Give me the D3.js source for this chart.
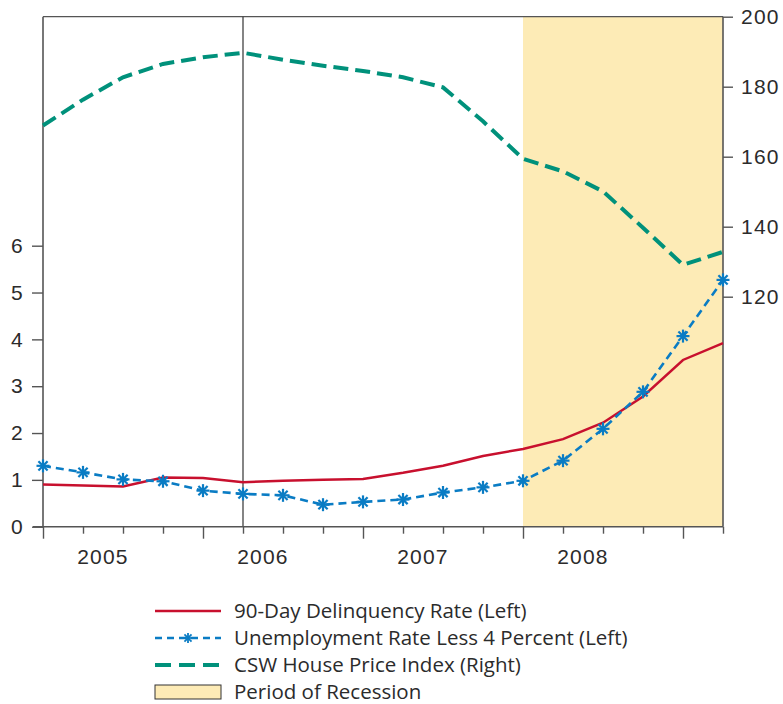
<!DOCTYPE html>
<html>
<head>
<meta charset="utf-8">
<script src="https://cdn.jsdelivr.net/npm/d3@7"></script>
<style>
  html, body { margin: 0; padding: 0; background: #fff; }
  svg { display: block; }
</style>
</head>
<body>
<svg id="chart" width="783" height="704"></svg>
<script>
// ---- data ----
const quarters = ["2005Q1","2005Q2","2005Q3","2005Q4","2006Q1","2006Q2","2006Q3","2006Q4",
                  "2007Q1","2007Q2","2007Q3","2007Q4","2008Q1","2008Q2","2008Q3","2008Q4",
                  "2009Q1","2009Q2"];
const years = ["2005","2006","2007","2008"];
const delinquency = [0.90, 0.88, 0.86, 1.05, 1.04, 0.95, 0.98, 1.00, 1.02, 1.15, 1.30, 1.51,
                     1.66, 1.87, 2.22, 2.78, 3.56, 3.92];
const unemploymentLess4 = [1.30, 1.16, 1.01, 0.97, 0.77, 0.70, 0.67, 0.47, 0.53, 0.58, 0.73, 0.84,
                           0.98, 1.41, 2.09, 2.88, 4.07, 5.27];
const housePrice = [168.9, 176.3, 182.7, 186.5, 188.4, 189.7, 187.7, 186.0, 184.5, 182.7, 179.8, 170.1,
                    159.4, 155.8, 150.1, 139.7, 129.1, 132.8];
const leftTicks = [0, 1, 2, 3, 4, 5, 6];
const rightTicks = [120, 140, 160, 180, 200];
const recession = ["2008Q1", "2009Q2"];
const markerQuarter = "2006Q2";
const legendItems = ["90-Day Delinquency Rate (Left)", "Unemployment Rate Less 4 Percent (Left)",
                     "CSW House Price Index (Right)", "Period of Recession"];

// ---- layout ----
const pLeft = 43, pRight = 723, pTop = 16.7, pBottom = 526.7;
const colors = { red: "#c8102e", blue: "#0a7cc4", green: "#00917b", rec: "#fdebb6", axis: "#555", text: "#2b2b2b" };

const svg = d3.select("#chart");
const x = d3.scalePoint().domain(quarters).range([pLeft, pRight]);
const yL = d3.scaleLinear().domain([0, 6]).range([pBottom, 245.7]);
const yR = d3.scaleLinear().domain([120, 200]).range([296.7, pTop]);

// recession band
svg.append("rect")
  .attr("x", x(recession[0])).attr("y", pTop)
  .attr("width", x(recession[1]) - x(recession[0])).attr("height", pBottom - pTop)
  .attr("fill", colors.rec);

// top border
svg.append("line").attr("x1", pLeft).attr("x2", pRight).attr("y1", pTop).attr("y2", pTop)
  .attr("stroke", colors.axis).attr("stroke-width", 1.3);

// vertical marker line
svg.append("line").attr("x1", x(markerQuarter)).attr("x2", x(markerQuarter))
  .attr("y1", pTop).attr("y2", pBottom).attr("stroke", "#333").attr("stroke-width", 1.2);

// left axis
const gL = svg.append("g").attr("transform", `translate(${pLeft},0)`)
  .call(d3.axisLeft(yL).tickValues(leftTicks).tickSize(11).tickPadding(8).tickFormat(d3.format("d")));
gL.select(".domain").remove();
gL.append("line").attr("x1", 0).attr("x2", 0).attr("y1", pTop).attr("y2", pBottom)
  .attr("stroke", colors.axis).attr("stroke-width", 1.6);

// right axis
const gR = svg.append("g").attr("transform", `translate(${pRight},0)`)
  .call(d3.axisRight(yR).tickValues(rightTicks).tickSize(10).tickPadding(8).tickFormat(d3.format("d")));
gR.select(".domain").remove();
gR.append("line").attr("x1", 0).attr("x2", 0).attr("y1", pTop).attr("y2", pBottom)
  .attr("stroke", colors.axis).attr("stroke-width", 1.6);

// bottom axis
const gB = svg.append("g").attr("transform", `translate(0,${pBottom})`)
  .call(d3.axisBottom(x).tickValues(quarters).tickSize(7).tickFormat(""));
gB.select(".domain").remove();
gB.selectAll(".tick line").attr("y2", d => d.endsWith("Q1") ? 12 : 7);
gB.append("line").attr("x1", pLeft - 10).attr("x2", pRight).attr("y1", 0).attr("y2", 0)
  .attr("stroke", colors.axis).attr("stroke-width", 1.6);
gB.selectAll(".yr").data(years).enter().append("text")
  .attr("class", "yr")
  .attr("x", d => (x(d + "Q1") + x(d + "Q4")) / 2)
  .attr("y", 37.5)
  .attr("text-anchor", "middle")
  .text(d => d);

[gL, gR, gB].forEach(g => {
  g.selectAll(".tick line").attr("stroke", colors.axis).attr("stroke-width", 1.4);
  g.selectAll("text")
    .attr("fill", colors.text)
    .style("font-family", "'Liberation Sans', Arial, sans-serif")
    .style("font-size", "21px")
    .style("letter-spacing", "1.2px");
});

// lines
const idx = d3.range(quarters.length);
const lineL = arr => d3.line().x(i => x(quarters[i])).y(i => yL(arr[i]))(idx);
const lineR = arr => d3.line().x(i => x(quarters[i])).y(i => yR(arr[i]))(idx);

svg.append("path").attr("d", lineR(housePrice)).attr("fill", "none")
  .attr("stroke", colors.green).attr("stroke-width", 4).attr("stroke-dasharray", "15,7");

svg.append("path").attr("d", lineL(delinquency)).attr("fill", "none")
  .attr("stroke", colors.red).attr("stroke-width", 2.5);

svg.append("path").attr("d", lineL(unemploymentLess4)).attr("fill", "none")
  .attr("stroke", colors.blue).attr("stroke-width", 2.6).attr("stroke-dasharray", "8,5");

// asterisk markers
function asterisk(g, cx, cy, r, w) {
  for (let k = 0; k < 4; k++) {
    const a = Math.PI / 2 + k * Math.PI / 4;
    g.append("line")
      .attr("x1", cx - r * Math.cos(a)).attr("y1", cy - r * Math.sin(a))
      .attr("x2", cx + r * Math.cos(a)).attr("y2", cy + r * Math.sin(a))
      .attr("stroke", colors.blue).attr("stroke-width", w);
  }
}
const gm = svg.append("g");
idx.forEach(i => asterisk(gm, x(quarters[i]), yL(unemploymentLess4[i]), 6.5, 2.2));

// legend
const lg = svg.append("g");
const lx0 = 155, lx1 = 221, tx = 234, rowY = [611, 638, 665, 692];
lg.append("line").attr("x1", lx0).attr("x2", lx1).attr("y1", rowY[0]).attr("y2", rowY[0])
  .attr("stroke", colors.red).attr("stroke-width", 2.5);
lg.append("line").attr("x1", lx0).attr("x2", lx1).attr("y1", rowY[1]).attr("y2", rowY[1])
  .attr("stroke", colors.blue).attr("stroke-width", 2.5).attr("stroke-dasharray", "7,5");
asterisk(lg, (lx0 + lx1) / 2, rowY[1], 5, 1.8);
lg.append("line").attr("x1", lx0).attr("x2", lx1).attr("y1", rowY[2]).attr("y2", rowY[2])
  .attr("stroke", colors.green).attr("stroke-width", 4).attr("stroke-dasharray", "16,8");
lg.append("rect").attr("x", lx0).attr("y", rowY[3] - 7).attr("width", lx1 - lx0).attr("height", 14)
  .attr("fill", colors.rec).attr("stroke", "#333").attr("stroke-width", 1);
lg.selectAll("text").data(legendItems).enter().append("text")
  .attr("x", tx).attr("y", (d, i) => rowY[i])
  .attr("dy", "0.36em")
  .attr("fill", colors.text)
  .style("font-family", "'Open Sans', 'Noto Sans', sans-serif")
  .style("font-size", "20.5px")
  .text(d => d);
</script>
</body>
</html>
